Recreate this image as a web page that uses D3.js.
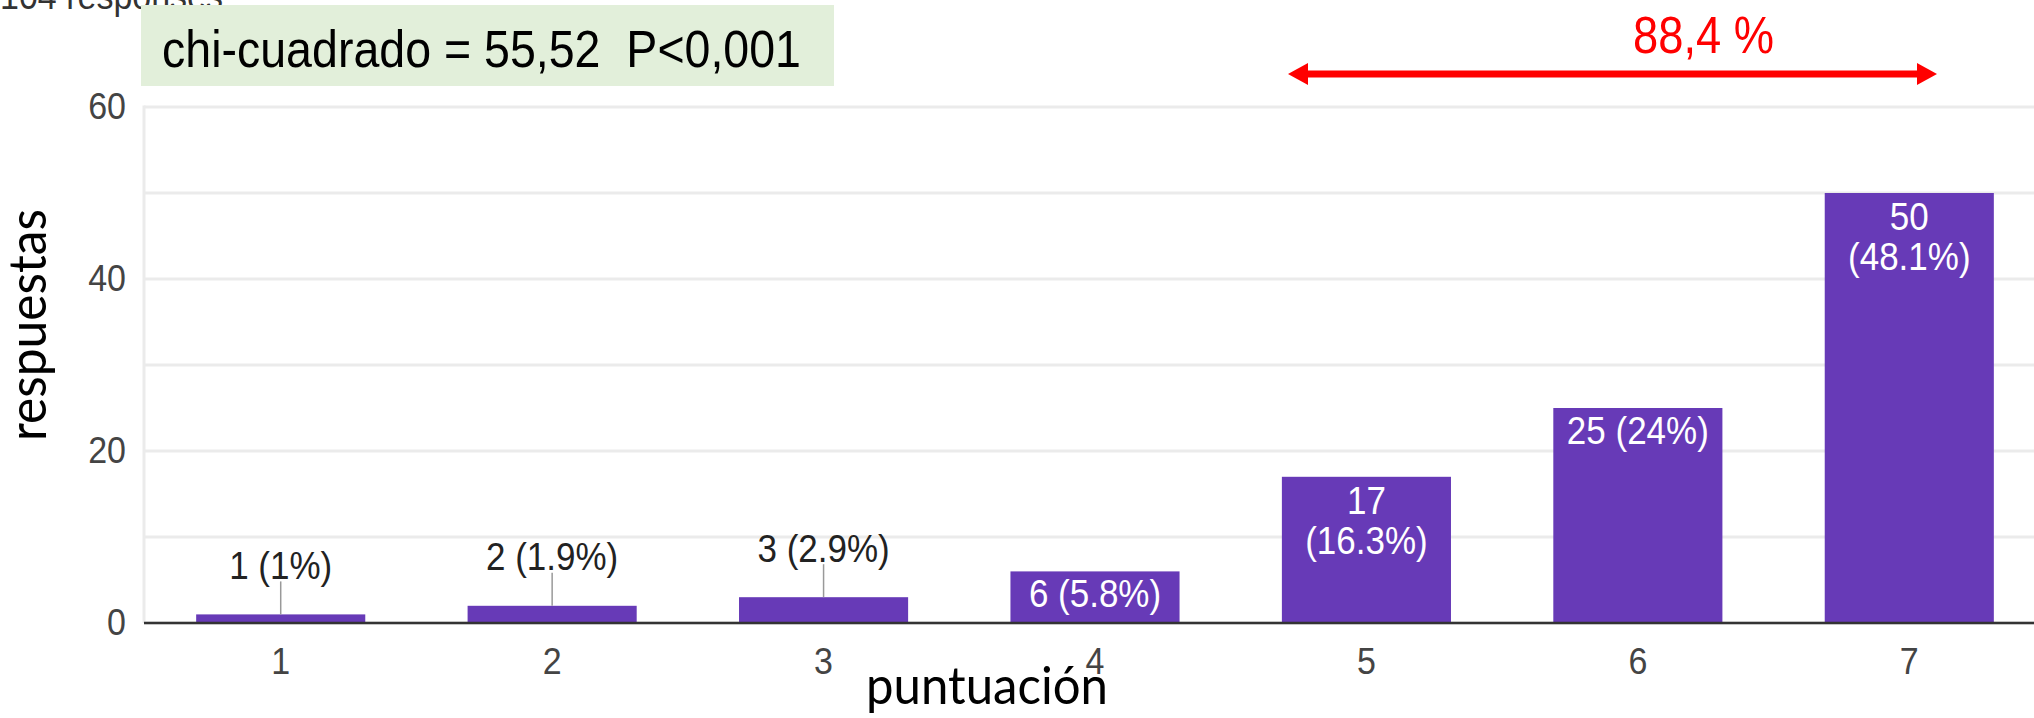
<!DOCTYPE html>
<html>
<head>
<meta charset="utf-8">
<script src="https://cdn.jsdelivr.net/npm/d3@7"></script>
<style>
  body { margin: 0; background: #fff; }
  svg { display: block; }
</style>
</head>
<body>
<div id="chart"></div>
<script>

// data
var categories = ['1', '2', '3', '4', '5', '6', '7'];
var counts = [1, 2, 3, 6, 17, 25, 50];
var percents = ['1%', '1.9%', '2.9%', '5.8%', '16.3%', '24%', '48.1%'];
var yTicks = [0, 20, 40, 60];
var gridTicks = [0, 10, 20, 30, 40, 50, 60];
var responsesText = '104 responses';
var statText = 'chi-cuadrado = 55,52  P<0,001';
var bracketText = '88,4 %';
var xTitle = 'puntuación';
var yTitle = 'respuestas';

var width = 2034;
var height = 718;
var barColor = '#673ab7';
var sans = '"Liberation Sans", Arial, sans-serif';
var stretchY = 1.1;   // the source picture is a bit taller than plain Arial

var svg = d3.select('#chart').append('svg')
    .attr('width', width)
    .attr('height', height);

// scales
var xScale = d3.scaleBand()
    .domain(categories)
    .range([145, 2045])
    .paddingInner(0.377)
    .paddingOuter(0.1885);

var yScale = d3.scaleLinear()
    .domain([0, 60])
    .range([623, 107]);

var plotLeft = 144;

// place a text at (x, baseline) with the vertical stretch
function putText(g, x, y, str, size, color) {
    return g.append('text')
        .attr('transform', 'translate(' + x + ',' + y + ') scale(1,' + stretchY + ')')
        .attr('text-anchor', 'middle')
        .style('font', size + 'px ' + sans)
        .style('fill', color)
        .text(str);
}

// gridlines
svg.append('g')
    .selectAll('line')
    .data(gridTicks)
    .enter().append('line')
    .attr('x1', plotLeft)
    .attr('x2', width)
    .attr('y1', function(d) { return yScale(d); })
    .attr('y2', function(d) { return yScale(d); })
    .style('stroke', '#ebebeb')
    .style('stroke-width', 3);

// left frame line
svg.append('line')
    .attr('x1', plotLeft).attr('x2', plotLeft)
    .attr('y1', yScale(60) - 1.5).attr('y2', yScale(0))
    .style('stroke', '#ebebeb')
    .style('stroke-width', 3);

// y axis labels
var yAxis = d3.axisLeft(yScale).tickValues(yTicks).tickSize(0).tickPadding(18);
var gy = svg.append('g')
    .attr('transform', 'translate(' + plotLeft + ',0)')
    .call(yAxis);
gy.select('.domain').remove();
gy.selectAll('text')
    .attr('transform', 'scale(1,' + stretchY + ')')
    .style('font', '34px ' + sans)
    .style('fill', '#444');

// bars
var rows = categories.map(function(c, i) {
    return { cat: c, value: counts[i], pct: percents[i] };
});

svg.append('g')
    .selectAll('rect')
    .data(rows)
    .enter().append('rect')
    .attr('x', function(d) { return xScale(d.cat); })
    .attr('width', xScale.bandwidth())
    .attr('y', function(d) { return yScale(d.value); })
    .attr('height', function(d) { return yScale(0) - yScale(d.value); })
    .style('fill', barColor);

// x axis labels
var xAxis = d3.axisBottom(xScale).tickSize(0).tickPadding(24);
var gx = svg.append('g')
    .attr('transform', 'translate(0,' + yScale(0) + ')')
    .call(xAxis);
gx.select('.domain').remove();
gx.selectAll('text')
    .attr('transform', 'scale(1,' + stretchY + ')')
    .attr('y', 24 / stretchY)
    .style('font', '34px ' + sans)
    .style('fill', '#444');

// baseline
svg.append('line')
    .attr('x1', plotLeft).attr('x2', width)
    .attr('y1', yScale(0)).attr('y2', yScale(0))
    .style('stroke', '#333')
    .style('stroke-width', 2.5);

// bar labels: outside with a leader when the bar is short, wrapped when too wide
var labels = svg.append('g');
rows.forEach(function(d) {
    var top = yScale(d.value);
    var cx = xScale(d.cat) + xScale.bandwidth() / 2;
    var barH = yScale(0) - top;
    var full = d.value + ' (' + d.pct + ')';

    if (barH < 40) {
        labels.append('line')
            .attr('x1', cx).attr('x2', cx)
            .attr('y1', top).attr('y2', top - 33)
            .style('stroke', '#999')
            .style('stroke-width', 1.5);
        putText(labels, cx, top - 35.5, full, 35, '#222');
        return;
    }

    var t = putText(labels, cx, top + 36, full, 35, '#fff');

    if (t.node().getComputedTextLength() > xScale.bandwidth() - 16) {
        t.remove();
        putText(labels, cx, top + 37, d.value, 35, '#fff');
        putText(labels, cx, top + 77, '(' + d.pct + ')', 35, '#fff');
    }
});

// header text cut by the top edge
svg.append('text')
    .attr('transform', 'translate(0,9) scale(1,' + stretchY + ')')
    .style('font', '34px ' + sans)
    .style('fill', '#333')
    .text(responsesText);

// chi-square box
svg.append('rect')
    .attr('x', 141).attr('y', 5)
    .attr('width', 693).attr('height', 81)
    .style('fill', '#e2efda');
svg.append('text')
    .attr('x', 162)
    .attr('y', 67)
    .attr('textLength', 639)
    .attr('lengthAdjust', 'spacingAndGlyphs')
    .style('white-space', 'pre')
    .style('font', '52px ' + sans)
    .style('fill', '#000')
    .text(statText);

// red double arrow over bars 5..7
var arrowY = 74, arrowL = 1288, arrowR = 1937, head = 20, halfH = 11;
svg.append('line')
    .attr('x1', arrowL + head - 2).attr('x2', arrowR - head + 2)
    .attr('y1', arrowY).attr('y2', arrowY)
    .style('stroke', '#ff0000')
    .style('stroke-width', 7);
svg.append('path')
    .attr('d', 'M' + arrowL + ',' + arrowY + 'L' + (arrowL + head) + ',' + (arrowY - halfH) +
               'L' + (arrowL + head) + ',' + (arrowY + halfH) + 'Z')
    .style('fill', '#ff0000');
svg.append('path')
    .attr('d', 'M' + arrowR + ',' + arrowY + 'L' + (arrowR - head) + ',' + (arrowY - halfH) +
               'L' + (arrowR - head) + ',' + (arrowY + halfH) + 'Z')
    .style('fill', '#ff0000');

svg.append('text')
    .attr('x', 1633)
    .attr('y', 53)
    .attr('textLength', 141)
    .attr('lengthAdjust', 'spacingAndGlyphs')
    .style('white-space', 'pre')
    .style('font', '52px ' + sans)
    .style('fill', '#ff0000')
    .text(bracketText);

// axis titles
svg.append('text')
    .attr('x', 987)
    .attr('y', 704)
    .attr('text-anchor', 'middle')
    .attr('textLength', 242)
    .attr('lengthAdjust', 'spacingAndGlyphs')
    .style('font', '53px Lato, "Open Sans", sans-serif')
    .style('fill', '#000')
    .text(xTitle);

svg.append('text')
    .attr('transform', 'translate(46,325) rotate(-90)')
    .attr('text-anchor', 'middle')
    .attr('textLength', 232)
    .attr('lengthAdjust', 'spacingAndGlyphs')
    .style('font', '53px Lato, "Open Sans", sans-serif')
    .style('fill', '#000')
    .text(yTitle);

</script>
</body>
</html>
